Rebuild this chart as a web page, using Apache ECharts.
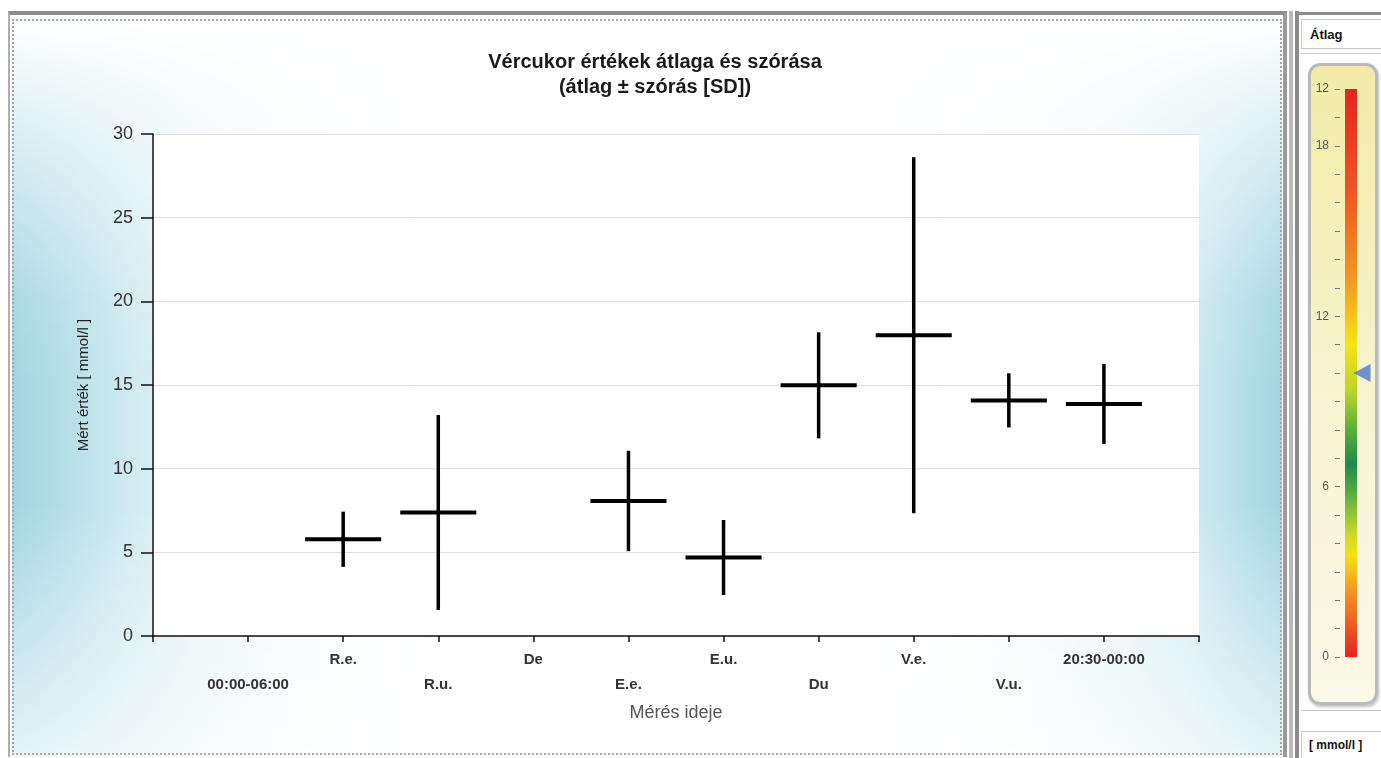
<!DOCTYPE html>
<html><head><meta charset="utf-8">
<script src="https://cdn.jsdelivr.net/npm/echarts@6/dist/echarts.min.js"></script>
<style>
html,body{margin:0;padding:0;width:1381px;height:758px;overflow:hidden;background:#fff;font-family:"Liberation Sans",Arial,sans-serif;}
#mainPanel{position:absolute;left:8px;top:11px;width:1279px;height:746px;border-top:4px solid #8c8c8c;border-left:2px solid #b0b0b0;border-right:4px solid #9a9a9a;box-sizing:border-box;}
#bg{position:absolute;left:12px;top:19px;width:1270px;height:736px;border:2px dotted #a8a8a8;box-sizing:border-box;
 background:
  linear-gradient(to bottom, rgba(255,255,255,1) 0%, rgba(255,255,255,0.55) 18%, rgba(255,255,255,0.1) 38%, rgba(255,255,255,0) 50%, rgba(255,255,255,0) 66%, rgba(255,255,255,0.7) 100%),
  linear-gradient(to right, #a4d5e0 0%, #b6dee7 4%, #cfeaf0 9%, #e4f3f6 14%, #f6fbfc 22%, #ffffff 32%, #ffffff 68%, #f6fbfc 80%, #e4f3f6 88%, #cfeaf0 93%, #b6dee7 97%, #a4d5e0 100%);}
#rsep1{position:absolute;left:1289px;top:11px;width:4px;height:747px;background:#b8b8b8;}
#rsep2{position:absolute;left:1295px;top:11px;width:4px;height:747px;background:#8a8a8a;}
#rtop{position:absolute;left:1299px;top:12px;width:82px;height:3px;background:#8c8c8c;}
#atlagBox{position:absolute;left:1301px;top:19px;width:80px;height:30px;border-top:1px solid #c8c8c8;border-bottom:1px solid #c8c8c8;border-left:1px solid #c8c8c8;background:#fff;box-sizing:border-box;font-weight:bold;font-size:13px;color:#111;padding:7px 0 0 8px;}
#sub1{position:absolute;left:1301px;top:53px;width:80px;height:1px;background:#c8c8c8;}
#gaugePanel{position:absolute;left:1308px;top:63px;width:70px;height:642px;border:3px solid #b9b9b9;border-radius:12px;box-sizing:border-box;
 background:linear-gradient(to bottom,#f2eca8 0%,#f5f0bd 30%,#f8f5d6 60%,#fbf9e8 100%);box-shadow:1px 2px 3px rgba(0,0,0,0.25);}
#sub2{position:absolute;left:1301px;top:710px;width:80px;height:1px;background:#c8c8c8;}
#unitBox{position:absolute;left:1301px;top:731px;width:80px;height:27px;border-top:1px solid #c8c8c8;border-left:1px solid #c8c8c8;background:#fff;box-sizing:border-box;font-weight:bold;font-size:12px;color:#111;padding:6px 0 0 7px;}
#chart{position:absolute;left:0;top:0;width:1381px;height:758px;}
</style></head>
<body>
<div id="mainPanel"></div>
<div id="bg"></div>
<div id="rsep1"></div><div id="rsep2"></div><div id="rtop"></div>
<div id="atlagBox">Átlag</div>
<div id="sub1"></div>
<div id="gaugePanel"></div>
<div id="sub2"></div>
<div id="unitBox">[ mmol/l ]</div>
<div id="chart"></div>
<script>
// ---- data ----
const categories = ['00:00-06:00','R.e.','R.u.','De','E.e.','E.u.','Du','V.e.','V.u.','20:30-00:00'];
const means = [null, 5.78, 7.38, null, 8.07, 4.69, 14.98, 17.97, 14.08, 13.87];
const sds   = [null, 1.65, 5.83, null, 3.00, 2.24, 3.17, 10.64, 1.62, 2.39];
const yTicks = [0, 5, 10, 15, 20, 25, 30];
const gaugeMax = 20;
const gaugeLabels = {0:'0', 6:'6', 12:'12', 18:'18', 20:'12'};
const averageValue = 10;

const titleText = 'Vércukor értékek átlaga és szórása\n(átlag ± szórás [SD])';
const yName = 'Mért érték [ mmol/l ]';
const xName = 'Mérés ideje';

const crossData = [];
categories.forEach((c, i) => {
  if (means[i] != null) crossData.push([i + 1, means[i], sds[i]]);
});

const chart = echarts.init(document.getElementById('chart'), null, {renderer:'canvas'});
const font = '"Liberation Sans", Arial, sans-serif';

chart.setOption({
  backgroundColor: 'transparent',
  animation: false,
  title: {
    text: titleText, left: 650, top: 45, textAlign: 'center',
    textStyle: {fontFamily: font, fontSize: 20, fontWeight: 'bold', color: '#1a1a1a', lineHeight: 25}
  },
  grid: [
    {left: 153, top: 134, width: 1046, height: 502, show: true, backgroundColor: '#ffffff', borderWidth: 0},
    {left: 1345, top: 89, width: 12, height: 568, show: false}
  ],
  xAxis: [
    {
      type: 'value', gridIndex: 0, min: 0, max: categories.length + 1, interval: 1,
      splitLine: {show: false},
      axisLine: {lineStyle: {color: '#111', width: 1.5}},
      axisTick: {length: 6, lineStyle: {color: '#111', width: 1.5}},
      axisLabel: {
        margin: 11, fontFamily: font, fontSize: 15, fontWeight: 'bold', color: '#333', lineHeight: 25,
        formatter: v => {
          const n = categories[v - 1];
          if (!n) return '';
          return (v % 2 === 1) ? '\n' + n : n;
        }
      },
      name: xName, nameLocation: 'middle', nameGap: 68,
      nameTextStyle: {fontFamily: font, fontSize: 18, color: '#555'}
    },
    {type: 'category', gridIndex: 1, data: ['a'], show: false}
  ],
  yAxis: [
    {
      type: 'value', gridIndex: 0, min: yTicks[0], max: yTicks[yTicks.length - 1], interval: 5,
      axisLine: {show: true, lineStyle: {color: '#111', width: 1.5}},
      axisTick: {show: true, length: 12, lineStyle: {color: '#111', width: 1.5}},
      axisLabel: {fontFamily: font, fontSize: 18, color: '#333', margin: 20},
      splitLine: {lineStyle: {color: '#e8dcdc', width: 1}},
      name: yName, nameLocation: 'middle', nameGap: 62,
      nameTextStyle: {fontFamily: font, fontSize: 15, color: '#222'}
    },
    {
      type: 'value', gridIndex: 1, min: 0, max: gaugeMax, interval: 1, offset: 5,
      axisLine: {show: false},
      axisTick: {show: true, length: 5, lineStyle: {color: '#777', width: 1}},
      axisLabel: {fontFamily: font, fontSize: 12, color: '#555', margin: 11,
        formatter: v => gaugeLabels[v] !== undefined ? gaugeLabels[v] : ''},
      splitLine: {show: false}
    }
  ],
  series: [
    {
      type: 'custom', xAxisIndex: 0, yAxisIndex: 0, data: crossData,
      renderItem: (params, api) => {
        const x = api.value(0), m = api.value(1), s = api.value(2);
        const c = api.coord([x, m]);
        const t = api.coord([x, m + s]);
        const b = api.coord([x, m - s]);
        const half = api.size([1, 0])[0] * 0.4;
        return {
          type: 'group',
          children: [
            {type: 'line', shape: {x1: c[0] - half, y1: c[1], x2: c[0] + half, y2: c[1]}, style: {stroke: '#000', lineWidth: 4}},
            {type: 'line', shape: {x1: c[0], y1: t[1], x2: c[0], y2: b[1]}, style: {stroke: '#000', lineWidth: 3.5}}
          ]
        };
      }
    },
    {
      type: 'bar', xAxisIndex: 1, yAxisIndex: 1, barWidth: 12, data: [gaugeMax], silent: true,
      itemStyle: {
        color: new echarts.graphic.LinearGradient(0, 0, 0, 1, [
          {offset: 0, color: '#e62420'},
          {offset: 0.18, color: '#ee5622'},
          {offset: 0.34, color: '#f39a22'},
          {offset: 0.45, color: '#f6e414'},
          {offset: 0.53, color: '#bcd52a'},
          {offset: 0.60, color: '#5aae3c'},
          {offset: 0.66, color: '#1e8a4a'},
          {offset: 0.72, color: '#62b43c'},
          {offset: 0.78, color: '#c6d62a'},
          {offset: 0.82, color: '#f6e016'},
          {offset: 0.88, color: '#f39a22'},
          {offset: 1, color: '#e62420'}
        ])
      }
    },
    {
      type: 'scatter', xAxisIndex: 1, yAxisIndex: 1, data: [['a', averageValue]],
      symbol: 'triangle', symbolRotate: 90, symbolSize: [18, 17], symbolOffset: [11, 0],
      itemStyle: {color: '#4a7bc6'}, silent: true
    }
  ]
});
</script>
</body></html>
